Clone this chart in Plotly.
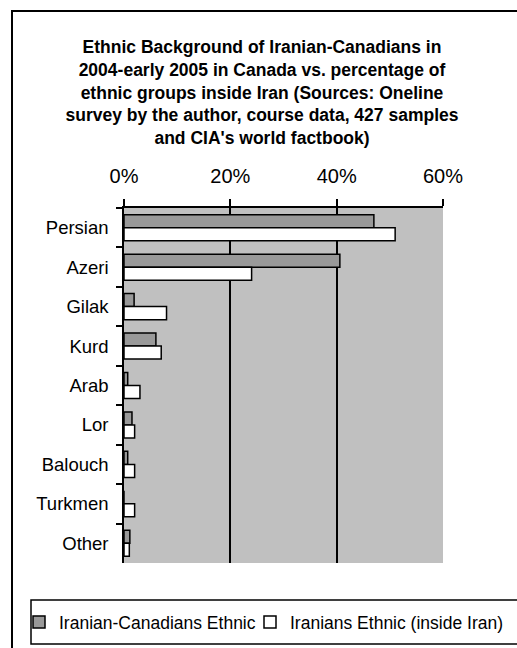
import plotly.graph_objects as go

categories = ["Persian", "Azeri", "Gilak", "Kurd", "Arab", "Lor", "Balouch", "Turkmen", "Other"]
canadians = [47, 40.6, 1.9, 6, 0.7, 1.5, 0.7, 0, 1.1]
inside_iran = [51, 24, 8, 7, 3, 2, 2, 2, 1]
series_names = ["Iranian-Canadians Ethnic", "Iranians Ethnic (inside Iran)"]
x_ticks = [0, 20, 40, 60]
x_tick_labels = ["0%", "20%", "40%", "60%"]
title_lines = [
    "Ethnic Background of Iranian-Canadians in",
    "2004-early 2005 in Canada vs. percentage of",
    "ethnic groups inside Iran (Sources: Oneline",
    "survey by the author, course data, 427 samples",
    "and CIA's world factbook)",
]

W, H = 517, 648
L, R, T, B = 124, 74, 208, 85
PW, PH = W - L - R, H - T - B

def px_x(p):
    return (p - L) / PW

def px_y(p):
    return (H - B - p) / PH

FONT = "Liberation Sans, Arial, sans-serif"

fig = go.Figure()
fig.add_trace(go.Bar(
    y=categories, x=canadians, orientation="h", name=series_names[0],
    marker=dict(color="#999999", line=dict(color="black", width=1.5)),
    legend="legend",
))
fig.add_trace(go.Bar(
    y=categories, x=inside_iran, orientation="h", name=series_names[1],
    marker=dict(color="white", line=dict(color="black", width=1.5)),
    legend="legend2",
))

legend_common = dict(
    orientation="h", xanchor="left", yanchor="top",
    font=dict(size=17.5, family=FONT, color="black"),
    bgcolor="rgba(0,0,0,0)", borderwidth=0, itemwidth=30,
)

fig.update_layout(
    width=W, height=H,
    margin=dict(l=L, r=R, t=T, b=B, pad=0, autoexpand=False),
    paper_bgcolor="white",
    plot_bgcolor="#C0C0C0",
    barmode="group",
    bargap=0.34,
    bargroupgap=0,
    font=dict(family=FONT, color="black"),
    title=dict(
        text="<b>" + "<br>".join(title_lines) + "</b>",
        x=262 / W, xanchor="center", xref="container",
        y=1 - 53 / H, yanchor="top", yref="container",
        font=dict(size=17.5, family=FONT, color="black"),
    ),
    xaxis=dict(
        side="top", range=[0, 60], tickvals=x_ticks, ticktext=x_tick_labels,
        showgrid=True, gridcolor="black", gridwidth=1.5,
        showline=True, linecolor="black", linewidth=1.5,
        ticks="outside", ticklen=7, tickwidth=1.5, tickcolor="black",
        tickfont=dict(size=20, family=FONT, color="black"),
        ticklabelstandoff=8,
        zeroline=False, fixedrange=True,
    ),
    yaxis=dict(
        autorange="reversed", showgrid=False,
        showline=True, linecolor="black", linewidth=1.5,
        ticks="outside", ticklen=6, tickwidth=1.5, tickcolor="black",
        tickson="boundaries",
        tickfont=dict(size=18.5, family=FONT, color="black"),
        ticklabelstandoff=10,
        fixedrange=True,
    ),
    legend=dict(x=px_x(19), y=px_y(604), **legend_common),
    legend2=dict(x=px_x(250), y=px_y(604), **legend_common),
    showlegend=True,
    shapes=[
        dict(type="rect", xref="paper", yref="paper",
             x0=px_x(12), x1=px_x(530), y0=px_y(665), y1=px_y(11),
             line=dict(color="black", width=2), fillcolor="rgba(0,0,0,0)", layer="below"),
        dict(type="rect", xref="paper", yref="paper",
             x0=px_x(31), x1=px_x(530), y0=px_y(644), y1=px_y(600),
             line=dict(color="black", width=1.5), fillcolor="rgba(0,0,0,0)", layer="below"),
    ],
)

fig.write_html("out.html", config={"displayModeBar": False},
               post_script="document.body.style.margin='0';")
